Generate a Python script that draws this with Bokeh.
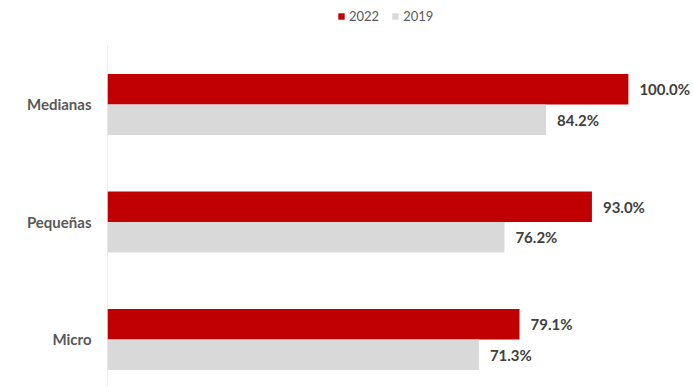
from bokeh.plotting import figure
from bokeh.models import ColumnDataSource, Legend, LegendItem, FixedTicker, Range1d
from bokeh.core.properties import value
from bokeh.embed import file_html
from bokeh.resources import INLINE

categories = ["Micro", "Pequeñas", "Medianas"]
vals_2022 = [79.1, 93.0, 100.0]
vals_2019 = [71.3, 76.2, 84.2]
series_names = ["2022", "2019"]
colors = ["#C00000", "#D9D9D9"]

pos = list(range(len(categories)))
bar_h = 0.26
y_lo, y_hi = -0.4085, 2.885
axis_top = 2.502

p = figure(width=693, height=387, output_backend="svg", toolbar_location=None,
           x_range=Range1d(0, 112.5), y_range=Range1d(y_lo, y_hi),
           min_border_left=107, min_border_right=0, min_border_top=0, min_border_bottom=0)
p.outline_line_color = None
p.grid.visible = False
p.xaxis.visible = False
p.background_fill_color = "white"
p.border_fill_color = "white"

src22 = ColumnDataSource(dict(y=[c + bar_h / 2 for c in pos], v=vals_2022,
                              lab=[f"{v:.1f}%" for v in vals_2022]))
src19 = ColumnDataSource(dict(y=[c - bar_h / 2 for c in pos], v=vals_2019,
                              lab=[f"{v:.1f}%" for v in vals_2019]))

# category axis line (starts below the legend)
p.segment(x0=0, y0=y_lo, x1=0, y1=axis_top, line_color="#D9D9D9", line_width=1)

r22 = p.hbar(y="y", right="v", left=0, height=bar_h, source=src22, fill_color=colors[0], line_color=None)
r19 = p.hbar(y="y", right="v", left=0, height=bar_h, source=src19, fill_color=colors[1], line_color=None)

for s in (src22, src19):
    p.text(x="v", y="y", text="lab", source=s, x_offset=11, text_align="left", text_baseline="middle",
           text_font=value("Lato"), text_font_style="bold", text_font_size="15px", text_color="#404040")

p.yaxis.ticker = FixedTicker(ticks=pos)
p.yaxis.major_label_overrides = {i: c for i, c in enumerate(categories)}
p.yaxis.major_tick_line_color = None
p.yaxis.minor_tick_line_color = None
p.yaxis.major_tick_out = 0
p.yaxis.major_label_standoff = 16
p.yaxis.axis_line_color = None
p.yaxis.major_label_text_font = "Lato"
p.yaxis.major_label_text_font_style = "bold"
p.yaxis.major_label_text_font_size = "15px"
p.yaxis.major_label_text_color = "#595959"

legend = Legend(items=[LegendItem(label=series_names[0], renderers=[r22]),
                       LegendItem(label=series_names[1], renderers=[r19])],
                orientation="horizontal", location=(230, 363),
                glyph_width=8, glyph_height=8, label_text_font="Lato",
                label_text_font_size="13px", label_text_color="#595959",
                border_line_color=None, background_fill_alpha=0,
                spacing=12, label_standoff=4, padding=0, margin=0)
p.add_layout(legend, "center")

open("out.html", "w").write(file_html(p, INLINE))
